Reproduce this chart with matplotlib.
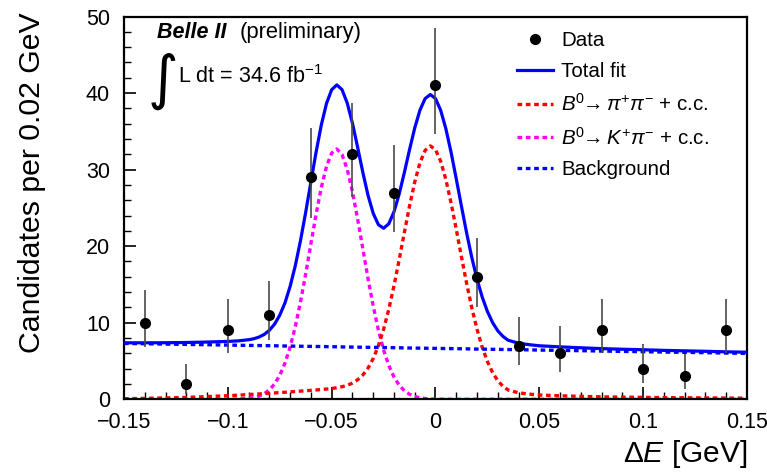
import matplotlib
matplotlib.use("Agg")
import matplotlib.pyplot as plt
import numpy as np

plt.rcParams['font.family'] = ['Liberation Sans', 'DejaVu Sans']
plt.rcParams['mathtext.fontset'] = 'custom'
plt.rcParams['mathtext.rm'] = 'Liberation Sans'
plt.rcParams['mathtext.it'] = 'Liberation Sans:italic'
plt.rcParams['mathtext.bf'] = 'Liberation Sans:bold'

# data points (Delta E bins) with asymmetric Poisson errors
x_data = [-0.14, -0.12, -0.10, -0.08, -0.06, -0.04, -0.02, 0.0,
          0.02, 0.04, 0.06, 0.08, 0.10, 0.12, 0.14]
y_data = [10, 2, 9, 11, 29, 32, 27, 41, 16, 7, 6, 9, 4, 3, 9]
err_lo = [3.11, 1.29, 2.94, 3.27, 5.36, 5.63, 5.17, 6.38, 3.97, 2.58, 2.38, 2.94, 1.91, 1.63, 2.94]
err_hi = [4.27, 2.64, 4.11, 4.42, 6.45, 6.72, 6.27, 7.46, 5.10, 3.77, 3.58, 4.11, 3.16, 2.92, 4.11]

# fit components
x_fit = [-0.15, -0.14, -0.13, -0.12, -0.11, -0.10, -0.095,
         -0.09, -0.0875, -0.085, -0.0825, -0.08, -0.0775, -0.075, -0.0725, -0.07, -0.0675,
         -0.065, -0.0625, -0.06, -0.0575, -0.055, -0.0525, -0.05, -0.0475, -0.045, -0.0425,
         -0.04, -0.0375, -0.035, -0.0325, -0.03, -0.0275, -0.025, -0.0225, -0.02, -0.0175,
         -0.015, -0.0125, -0.01, -0.0075, -0.005, -0.0025, 0.0, 0.0025, 0.005, 0.0075,
         0.01, 0.0125, 0.015, 0.0175, 0.02, 0.0225, 0.025, 0.0275, 0.03, 0.0325, 0.035,
         0.04, 0.045, 0.05, 0.06, 0.07, 0.08, 0.09, 0.10, 0.11, 0.12, 0.13, 0.14, 0.15]
pipi = [0.08, 0.12, 0.18, 0.25, 0.35, 0.47, 0.54,
        0.62, 0.66, 0.70, 0.74, 0.79, 0.83, 0.88, 0.92, 0.97, 1.02,
        1.07, 1.12, 1.17, 1.22, 1.28, 1.34, 1.41, 1.51, 1.64, 1.83,
        2.12, 2.55, 3.17, 4.07, 5.32, 6.99, 9.13, 11.75, 14.82, 18.22,
        21.78, 25.25, 28.38, 30.88, 32.51, 33.10, 32.61, 31.09, 28.70, 25.64,
        22.19, 18.61, 15.12, 11.93, 9.13, 6.79, 4.93, 3.49, 2.42, 1.70, 1.21,
        0.85, 0.68, 0.56, 0.46, 0.38, 0.32, 0.28, 0.25, 0.22, 0.20, 0.18, 0.16, 0.15]
kpi = [0, 0, 0, 0, 0, 0.01, 0.03,
       0.12, 0.22, 0.41, 0.72, 1.22, 2.00, 3.13, 4.71, 6.83, 9.51,
       12.74, 16.40, 20.31, 24.17, 27.65, 30.41, 32.16, 32.70, 31.96, 30.03,
       27.13, 23.56, 19.68, 15.79, 12.19, 9.05, 6.45, 4.42, 2.92, 1.85,
       1.13, 0.66, 0.37, 0.20, 0.10, 0.05, 0.02, 0.01, 0, 0,
       0, 0, 0, 0, 0, 0, 0, 0, 0, 0, 0,
       0, 0, 0, 0, 0, 0, 0, 0, 0, 0, 0, 0, 0]
bkg = [7.30, 7.26, 7.21, 7.17, 7.13, 7.08, 7.06,
       7.04, 7.03, 7.02, 7.01, 7.00, 6.99, 6.97, 6.96, 6.95, 6.94,
       6.93, 6.92, 6.91, 6.90, 6.89, 6.88, 6.87, 6.86, 6.84, 6.83,
       6.82, 6.81, 6.80, 6.79, 6.78, 6.77, 6.76, 6.75, 6.74, 6.73,
       6.71, 6.70, 6.69, 6.68, 6.67, 6.66, 6.65, 6.64, 6.63, 6.62,
       6.61, 6.60, 6.59, 6.57, 6.56, 6.55, 6.54, 6.53, 6.52, 6.51, 6.50,
       6.48, 6.46, 6.43, 6.39, 6.35, 6.30, 6.26, 6.22, 6.17, 6.13, 6.09, 6.04, 6.00]
total = np.array(bkg) + np.array(pipi) + np.array(kpi)

xticks = [-0.15, -0.1, -0.05, 0, 0.05, 0.1, 0.15]
xtick_labels = ['\u22120.15', '\u22120.1', '\u22120.05', '0', '0.05', '0.1', '0.15']
yticks = [0, 10, 20, 30, 40, 50]

fig = plt.figure(figsize=(7.67, 4.73), dpi=100)
ax = fig.add_axes([124/767, 1 - 399.3/473, 623/767, (399.3 - 16.5)/473])

dot = (0, (1.4, 1.1))
l_kpi, = ax.plot(x_fit, kpi, color='#ff00ff', lw=2.4, ls=dot, dash_capstyle='butt', zorder=2)
l_pipi, = ax.plot(x_fit, pipi, color='#ff0000', lw=2.4, ls=dot, dash_capstyle='butt', zorder=2)
l_bkg, = ax.plot(x_fit, bkg, color='#0000ff', lw=2.4, ls=dot, dash_capstyle='butt', zorder=2)
l_tot, = ax.plot(x_fit, total, color='#0000ff', lw=2.3, zorder=3)
ax.errorbar(x_data, y_data, yerr=[err_lo, err_hi], fmt='none', ecolor='#4a4a4a',
            elinewidth=1.2, capsize=0, zorder=4)
l_data, = ax.plot(x_data, y_data, 'o', color='black', ms=7, zorder=5)

ax.set_xlim(-0.15, 0.15)
ax.set_ylim(0, 50)
ax.set_xticks(xticks)
ax.set_xticklabels(xtick_labels)
ax.set_xticks(np.arange(-0.15, 0.1501, 0.01), minor=True)
ax.set_yticks(yticks)
ax.set_yticks(np.arange(0, 50.1, 2), minor=True)
ax.tick_params(which='both', direction='in', top=False, right=False, labelsize=15.5)
ax.tick_params(axis='x', which='major', length=8.6, width=1.2, pad=9)
ax.tick_params(axis='y', which='major', length=8.6, width=1.2, pad=10)
ax.tick_params(which='minor', length=4.7, width=1.0)
for s in ax.spines.values():
    s.set_linewidth(1.6)

ax.set_ylabel('Candidates per 0.02 GeV', fontsize=21.8)
ax.yaxis.set_label_coords(-0.1256, 0.565)
fig.text(747/767, 1 - 462/473, r'$\Delta\mathit{E}$ [GeV]', fontsize=21.5,
         ha='right', va='baseline')

fig.text(157/767, 1 - 38/473, 'Belle II', fontsize=15.5, fontweight='bold',
         fontstyle='italic', va='baseline')
fig.text(240/767, 1 - 38/473, '(preliminary)', fontsize=15.8, va='baseline')
fig.text(147/767, 1 - 98/473, r'$\int$', fontsize=30, va='baseline',
         math_fontfamily='dejavusans')
fig.text(178/767, 1 - 83/473, r'L dt = 34.6 fb$^{-1}$', fontsize=15.5, va='baseline')

handles = [l_data, l_tot, l_pipi, l_kpi, l_bkg]
labels = ['Data', 'Total fit',
          r'$B^{0}\!\!\rightarrow \pi^{+}\pi^{-}$ + c.c.',
          r'$B^{0}\!\!\rightarrow K^{+}\pi^{-}$ + c.c.',
          'Background']
ax.legend(handles, labels, loc='upper left',
          bbox_to_anchor=(517/767, 1 - 31/473), bbox_transform=fig.transFigure,
          frameon=False, fontsize=14.8, handlelength=1.75, handletextpad=0.4,
          labelspacing=0.58, borderpad=0, borderaxespad=0)

fig.savefig('out.png', dpi=100)
